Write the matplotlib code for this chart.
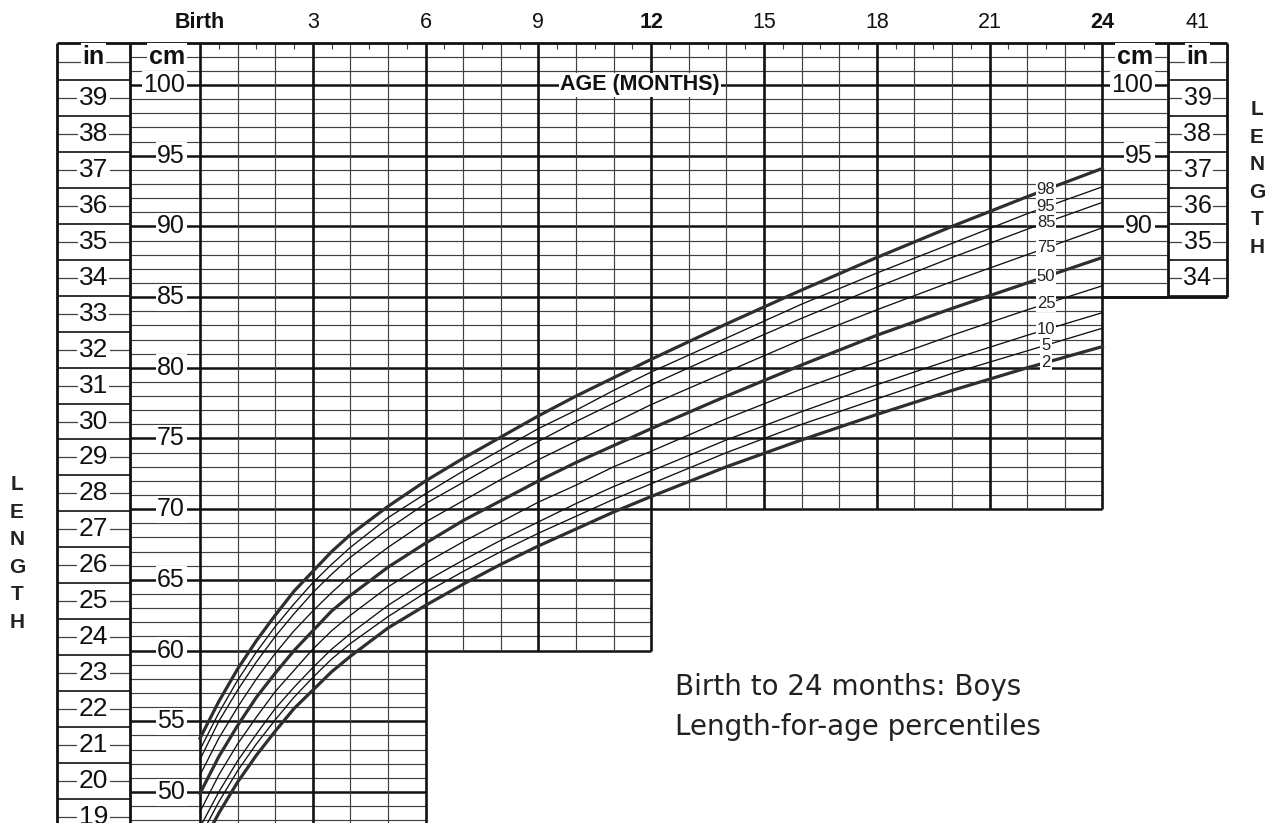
import matplotlib
matplotlib.use("Agg")
import matplotlib.pyplot as plt
import numpy as np

plt.rcParams['font.family'] = ['Liberation Sans', 'DejaVu Sans']

# ---------------- data (cm) ----------------
months = [0, 0.5, 1, 1.5, 2, 2.5, 3, 3.5, 4, 5, 6, 7, 8, 9, 10, 11, 12, 14, 16, 18, 20, 22, 24]
p98 = [53.8, 56.4, 58.7, 60.7, 62.5, 64.2, 65.6, 67.0, 68.2, 70.2, 72.0, 73.6, 75.1, 76.6, 78.0, 79.3, 80.6, 83.1, 85.5, 87.8, 90.0, 92.1, 94.1]
p95 = [53.0, 55.6, 57.9, 59.9, 61.7, 63.3, 64.8, 66.1, 67.3, 69.4, 71.1, 72.7, 74.2, 75.7, 77.0, 78.4, 79.7, 82.1, 84.5, 86.7, 88.8, 90.9, 92.8]
p85 = [52.3, 55.0, 57.2, 59.2, 61.0, 62.6, 64.1, 65.4, 66.6, 68.6, 70.4, 71.9, 73.4, 74.8, 76.2, 77.5, 78.8, 81.2, 83.5, 85.7, 87.8, 89.8, 91.7]
p75 = [51.2, 53.8, 56.0, 58.0, 59.8, 61.4, 62.8, 64.1, 65.3, 67.3, 69.1, 70.6, 72.1, 73.5, 74.8, 76.1, 77.4, 79.7, 82.0, 84.1, 86.1, 88.0, 89.9]
p50 = [49.9, 52.5, 54.7, 56.7, 58.4, 60.0, 61.4, 62.8, 63.9, 65.9, 67.6, 69.2, 70.6, 72.0, 73.3, 74.5, 75.7, 78.0, 80.2, 82.3, 84.2, 86.0, 87.8]
p25 = [48.6, 51.2, 53.4, 55.3, 57.1, 58.6, 60.1, 61.4, 62.5, 64.5, 66.2, 67.7, 69.1, 70.5, 71.7, 73.0, 74.1, 76.4, 78.5, 80.4, 82.3, 84.1, 85.8]
p10 = [47.5, 50.0, 52.2, 54.1, 55.9, 57.4, 58.8, 60.1, 61.2, 63.2, 64.9, 66.4, 67.8, 69.1, 70.4, 71.6, 72.7, 74.9, 76.9, 78.8, 80.6, 82.3, 83.9]
p5 = [46.8, 49.3, 51.5, 53.4, 55.1, 56.7, 58.1, 59.4, 60.5, 62.4, 64.1, 65.6, 67.0, 68.3, 69.5, 70.7, 71.8, 74.0, 76.0, 77.8, 79.6, 81.2, 82.8]
p2 = [46.0, 48.5, 50.7, 52.6, 54.3, 55.9, 57.2, 58.5, 59.6, 61.6, 63.2, 64.7, 66.1, 67.4, 68.6, 69.8, 70.9, 73.0, 74.9, 76.7, 78.4, 80.0, 81.5]

series = [("98", p98, True), ("95", p95, False), ("85", p85, False), ("75", p75, False),
          ("50", p50, True), ("25", p25, False), ("10", p10, False), ("5", p5, False),
          ("2", p2, True)]

top_month_ticks = [0, 3, 6, 9, 12, 15, 18, 21, 24]
top_month_labels = ["Birth", "3", "6", "9", "12", "15", "18", "21", "24"]
bold_top = {"Birth", "12", "24"}
left_in_labels = list(range(19, 40))
right_in_labels = list(range(34, 40))
left_cm_labels = list(range(50, 101, 5))
right_cm_labels = [90, 95, 100]
title_lines = ["Birth to 24 months: Boys", "Length-for-age percentiles"]

# ---------------- layout ----------------
W, H = 1271, 823
PX0, PXM = 200.0, 37.6      # pixel of birth, pixels per month
PY100, PYC = 85.0, 14.14    # pixel of 100 cm, pixels per cm

xlim = ((0 - PX0) / PXM, (W - PX0) / PXM)
ylim = (100 - (H - PY100) / PYC, 100 + PY100 / PYC)

fig = plt.figure(figsize=(W / 100, H / 100), dpi=100)
ax = fig.add_axes([0, 0, 1, 1])
ax.set_xlim(*xlim)
ax.set_ylim(*ylim)
ax.axis('off')

TOP = 103.0
YB = ylim[0] - 1
IN_L, IN_R = (57 - PX0) / PXM, (130 - PX0) / PXM
RC_R, RI_R = (1168 - PX0) / PXM, (1227 - PX0) / PXM
RBOT = 85.0
INCH = 2.54

thin_c = '#404040'
thick_c = '#111111'

# horizontal cm lines
for c in range(47, 103):
    if c >= 85:
        xr = RC_R
    elif c >= 70:
        xr = 24
    elif c >= 60:
        xr = 12
    else:
        xr = 6
    if c % 5 == 0:
        ax.hlines(c, IN_R, xr, color=thick_c, lw=1.8, zorder=1)
    else:
        ax.hlines(c, IN_R, xr, color=thin_c, lw=0.85, zorder=1)

# vertical month lines
for m in range(0, 25):
    yb = YB if m <= 6 else (60 if m <= 12 else 70)
    if m % 3 == 0:
        ax.vlines(m, yb, TOP, color=thick_c, lw=1.9, zorder=1)
    else:
        ax.vlines(m, yb, TOP, color=thin_c, lw=0.85, zorder=1)

# half-month ticks along the top border
for m in range(0, 24):
    ax.vlines(m + 0.5, TOP - 0.45, TOP, color=thin_c, lw=0.8, zorder=1)

# inch lines (left column)
for i in range(19, 41):
    ax.hlines(i * INCH, IN_L, IN_R, color=thin_c, lw=0.9, zorder=1)
    ax.hlines((i - 0.5) * INCH, IN_L, IN_R, color=thick_c, lw=1.2, zorder=1)
# inch lines (right column)
for i in range(34, 41):
    ax.hlines(i * INCH, RC_R, RI_R, color=thin_c, lw=0.9, zorder=1)
    ax.hlines((i - 0.5) * INCH, RC_R, RI_R, color=thick_c, lw=1.2, zorder=1)

# borders
ax.vlines([IN_L, IN_R], YB, TOP, color=thick_c, lw=2.0, zorder=2)
ax.vlines([RC_R, RI_R], RBOT, TOP, color=thick_c, lw=2.0, zorder=2)
ax.hlines(TOP, IN_L, RI_R, color=thick_c, lw=2.0, zorder=2)
ax.hlines(RBOT, 24, RI_R, color=thick_c, lw=2.0, zorder=2)

# ---------------- curves ----------------
LABEL_M = 22.5
for name, vals, heavy in series:
    if heavy:
        ax.plot(months, vals, color='#2e2e2e', lw=2.3, zorder=3, solid_joinstyle='round')
    else:
        ax.plot(months, vals, color='#111111', lw=0.95, zorder=3, solid_joinstyle='round')
    ly = float(np.interp(LABEL_M, months, vals))
    ax.text(LABEL_M, ly, name, ha='center', va='center', fontsize=12, color='#222222',
            zorder=4, bbox=dict(facecolor='white', edgecolor='none', pad=0.8))

# ---------------- text ----------------
box = dict(facecolor='white', edgecolor='none', pad=1.0)
TOPLAB_Y = 100 + (PY100 - 23) / PYC
for m, lab in zip(top_month_ticks, top_month_labels):
    ax.text(m, TOPLAB_Y, lab, ha='center', va='center', fontsize=15.5,
            fontweight='bold' if lab in bold_top else 'normal', color='#111111')
ax.text((1197 - PX0) / PXM, TOPLAB_Y, "41", ha='center', va='center', fontsize=15.5, color='#111111')

in_cx = (IN_L + IN_R) / 2
for i in left_in_labels:
    ax.text(in_cx, i * INCH, str(i), ha='center', va='center', fontsize=19,
            color='#111111', zorder=4, bbox=box)
ax.text(in_cx, 102, "in", ha='center', va='center', fontsize=18, fontweight='bold',
        color='#111111', zorder=4, bbox=box)

cm_rx = (185 - PX0) / PXM
for c in left_cm_labels:
    ax.text(cm_rx, c, str(c), ha='right', va='center', fontsize=18,
            color='#111111', zorder=4, bbox=box)
ax.text(cm_rx, 102, "cm", ha='right', va='center', fontsize=18, fontweight='bold',
        color='#111111', zorder=4, bbox=box)

rcm_rx = (1153 - PX0) / PXM
for c in right_cm_labels:
    ax.text(rcm_rx, c, str(c), ha='right', va='center', fontsize=18,
            color='#111111', zorder=4, bbox=box)
ax.text(rcm_rx, 102, "cm", ha='right', va='center', fontsize=18, fontweight='bold',
        color='#111111', zorder=4, bbox=box)

rin_cx = (RC_R + RI_R) / 2
for i in right_in_labels:
    ax.text(rin_cx, i * INCH, str(i), ha='center', va='center', fontsize=18,
            color='#111111', zorder=4, bbox=box)
ax.text(rin_cx, 102, "in", ha='center', va='center', fontsize=18, fontweight='bold',
        color='#111111', zorder=4, bbox=box)

ax.text((640 - PX0) / PXM, 100, "AGE (MONTHS)", ha='center', va='center', fontsize=15.5,
        fontweight='bold', color='#111111', zorder=4, bbox=box)

# vertical LENGTH captions
word = "LENGTH"
step = 27.5 / PYC
for k, ch in enumerate(word):
    ax.text((17 - PX0) / PXM, 100 - (485 - PY100) / PYC - k * step, ch, ha='center',
            va='center', fontsize=15, fontweight='bold', color='#222222')
    ax.text((1257 - PX0) / PXM, 100 - (110 - PY100) / PYC - k * step, ch, ha='center',
            va='center', fontsize=15, fontweight='bold', color='#222222')

# title
ax.text((675 - PX0) / PXM, 100 - (687 - PY100) / PYC, title_lines[0], ha='left', va='center',
        fontsize=20, family='DejaVu Sans', color='#222222')
ax.text((675 - PX0) / PXM, 100 - (727 - PY100) / PYC, title_lines[1], ha='left', va='center',
        fontsize=20, family='DejaVu Sans', color='#222222')

fig.savefig("out.png", dpi=100, facecolor='white')
